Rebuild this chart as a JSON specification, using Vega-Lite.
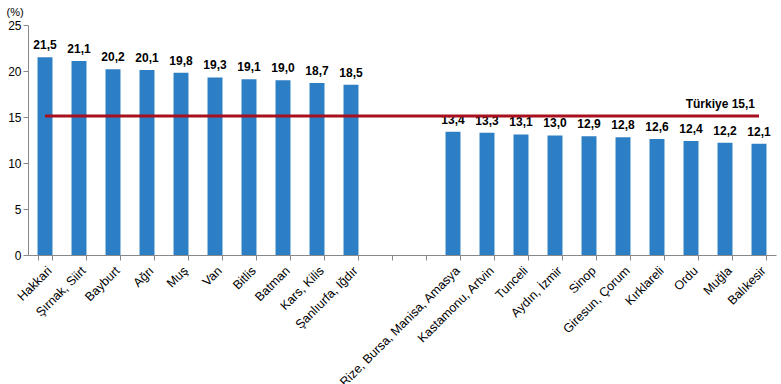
{
  "$schema": "https://vega.github.io/schema/vega-lite/v6.json",
  "autosize": "none",
  "width": 748,
  "height": 230,
  "padding": {"left": 28, "top": 25, "right": 5, "bottom": 129},
  "background": "white",
  "config": {
    "view": {"stroke": null},
    "font": "Liberation Sans",
    "axis": {"labelFont": "Liberation Sans", "titleFont": "Liberation Sans"}
  },
  "datasets": {
    "bars": [
      {"region": "Hakkari", "value": 21.5, "label": "21,5"},
      {"region": "Şırnak, Siirt", "value": 21.1, "label": "21,1"},
      {"region": "Bayburt", "value": 20.2, "label": "20,2"},
      {"region": "Ağrı", "value": 20.1, "label": "20,1"},
      {"region": "Muş", "value": 19.8, "label": "19,8"},
      {"region": "Van", "value": 19.3, "label": "19,3"},
      {"region": "Bitlis", "value": 19.1, "label": "19,1"},
      {"region": "Batman", "value": 19.0, "label": "19,0"},
      {"region": "Kars, Kilis", "value": 18.7, "label": "18,7"},
      {"region": "Şanlıurfa, Iğdır", "value": 18.5, "label": "18,5"},
      {"region": "Rize, Bursa, Manisa, Amasya", "value": 13.4, "label": "13,4"},
      {"region": "Kastamonu, Artvin", "value": 13.3, "label": "13,3"},
      {"region": "Tunceli", "value": 13.1, "label": "13,1"},
      {"region": "Aydın, İzmir", "value": 13.0, "label": "13,0"},
      {"region": "Sinop", "value": 12.9, "label": "12,9"},
      {"region": "Giresun, Çorum", "value": 12.8, "label": "12,8"},
      {"region": "Kırklareli", "value": 12.6, "label": "12,6"},
      {"region": "Ordu", "value": 12.4, "label": "12,4"},
      {"region": "Muğla", "value": 12.2, "label": "12,2"},
      {"region": "Balıkesir", "value": 12.1, "label": "12,1"}
    ],
    "avg": [
      {"start": "Hakkari", "end": "Balıkesir", "value": 15.1, "label": "Türkiye 15,1"}
    ]
  },
  "layer": [
    {
      "data": {"name": "bars"},
      "mark": {"type": "bar", "color": "#2C7FC4"},
      "encoding": {
        "x": {
          "field": "region", "type": "nominal",
          "scale": {
            "domain": ["Hakkari", "Şırnak, Siirt", "Bayburt", "Ağrı", "Muş", "Van", "Bitlis", "Batman", "Kars, Kilis", "Şanlıurfa, Iğdır", "_gap1", "_gap2", "Rize, Bursa, Manisa, Amasya", "Kastamonu, Artvin", "Tunceli", "Aydın, İzmir", "Sinop", "Giresun, Çorum", "Kırklareli", "Ordu", "Muğla", "Balıkesir"],
            "paddingInner": 0.56, "paddingOuter": 0.28
          },
          "axis": {
            "title": null,
            "labelAngle": -45,
            "labelAlign": "right",
            "labelBaseline": "top",
            "labelFontSize": 12.5,
            "labelColor": "#000000",
            "labelLimit": 400,
            "labelExpr": "indexof(datum.label, '_gap') === 0 ? '' : datum.label",
            "tickBand": "extent",
            "tickColor": "#888888",
            "tickSize": 5,
            "domainColor": "#888888",
            "labelPadding": 4
          }
        },
        "y": {
          "field": "value", "type": "quantitative",
          "scale": {"domain": [0, 25], "nice": false},
          "axis": {
            "values": [0, 5, 10, 15, 20, 25],
            "grid": false,
            "title": "(%)",
            "titleAngle": 0,
            "titleAlign": "left",
            "titleBaseline": "bottom",
            "titleX": -22,
            "titleY": -8,
            "titleFontWeight": "normal",
            "titleFontSize": 11,
            "titleColor": "#000000",
            "labelFontSize": 12,
            "labelColor": "#000000",
            "tickColor": "#888888",
            "tickSize": 5,
            "domainColor": "#888888"
          }
        }
      }
    },
    {
      "data": {"name": "bars"},
      "mark": {"type": "text", "baseline": "bottom", "dy": -5, "fontWeight": "bold", "fontSize": 12, "color": "#000000"},
      "encoding": {
        "x": {"field": "region", "type": "nominal"},
        "y": {"field": "value", "type": "quantitative"},
        "text": {"field": "label"}
      }
    },
    {
      "data": {"name": "avg"},
      "mark": {"type": "rule", "color": "#A8101E", "strokeWidth": 3},
      "encoding": {
        "x": {"field": "start", "type": "nominal"},
        "x2": {"field": "end"},
        "y": {"field": "value", "type": "quantitative"}
      }
    },
    {
      "data": {"name": "avg"},
      "mark": {"type": "text", "align": "right", "baseline": "bottom", "dx": -4, "dy": -5, "fontWeight": "bold", "fontSize": 12, "color": "#000000"},
      "encoding": {
        "x": {"field": "end", "type": "nominal"},
        "y": {"field": "value", "type": "quantitative"},
        "text": {"field": "label"}
      }
    }
  ]
}
